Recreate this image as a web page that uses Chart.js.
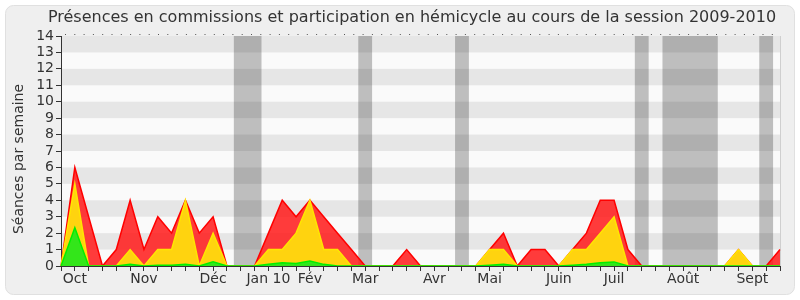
<!DOCTYPE html>
<html>
<head>
<meta charset="utf-8">
<script src="https://cdn.jsdelivr.net/npm/chart.js@4/dist/chart.umd.min.js"></script>
<style>
  html, body { margin: 0; padding: 0; background: #fff; }
  #wrap { width: 800px; height: 300px; }
</style>
</head>
<body>
<div id="wrap"><canvas id="chart" width="800" height="300"></canvas></div>
<script>
// ── Data ──────────────────────────────────────────────
const title  = "Présences en commissions et participation en hémicycle au cours de la session 2009-2010";
const yTitle = "Séances par semaine";

// one entry per week, month label on the week where it is printed
const weeks = [
  "", "Oct", "", "", "", "", "Nov", "", "", "", "", "Déc", "", "",
  "", "Jan 10", "", "", "Fév", "", "", "", "Mar", "", "", "", "", "Avr",
  "", "", "", "Mai", "", "", "", "", "Juin", "", "", "", "Juil", "", "",
  "", "", "Août", "", "", "", "", "Sept", "", ""
];

const red = [
  0, 6, 3, 0, 1, 4, 1, 3, 2, 4, 2, 3, 0, 0,
  0, 2, 4, 3, 4, 3, 2, 1, 0, 0, 0, 1, 0, 0,
  0, 0, 0, 1, 2, 0, 1, 1, 0, 1, 2, 4, 4, 1, 0,
  0, 0, 0, 0, 0, 0, 1, 0, 0, 1
];
const yellow = [
  0, 5, 0, 0, 0, 1, 0, 1, 1, 4, 0, 2, 0, 0,
  0, 1, 1, 2, 4, 1, 1, 0, 0, 0, 0, 0, 0, 0,
  0, 0, 0, 1, 1, 0, 0, 0, 0, 1, 1, 2, 3, 0, 0,
  0, 0, 0, 0, 0, 0, 1, 0, 0, 0
];
const green = [
  0, 2.33, 0, 0, 0, 0.1, 0, 0.05, 0.05, 0.1, 0, 0.25, 0, 0,
  0, 0.1, 0.2, 0.15, 0.3, 0.1, 0, 0, 0, 0, 0, 0, 0, 0,
  0, 0, 0, 0.05, 0.1, 0, 0, 0, 0, 0.05, 0.1, 0.2, 0.25, 0, 0,
  0, 0, 0, 0, 0, 0, 0, 0, 0, 0
];

// weeks without sessions (index of first and last week)
const holidays = [[13, 14], [22, 22], [29, 29], [42, 42], [44, 47], [51, 51]];

const yTicks = [0, 1, 2, 3, 4, 5, 6, 7, 8, 9, 10, 11, 12, 13, 14];

// ── Background, bands, titles ─────────────────────────
const frame = {
  id: "frame",
  beforeDraw(c) {
    const ctx = c.ctx, a = c.chartArea, x = c.scales.x, y = c.scales.y;
    ctx.save();
    ctx.fillStyle = "#fff";
    ctx.fillRect(0, 0, c.width, c.height);
    ctx.beginPath();
    ctx.roundRect(5.5, 5.5, 789, 289, 8);
    ctx.fillStyle = "#efefef";
    ctx.fill();
    ctx.strokeStyle = "#e0e0e0";
    ctx.lineWidth = 1;
    ctx.stroke();

    // stripes
    ctx.fillStyle = "#fafafa";
    ctx.fillRect(a.left, a.top, a.right - a.left, a.bottom - a.top);
    ctx.fillStyle = "#e6e6e6";
    for (let v = 1; v < 14; v += 2) {
      const t = y.getPixelForValue(v + 1), b = y.getPixelForValue(v);
      ctx.fillRect(a.left, t, a.right - a.left, b - t);
    }
    // holiday bands
    ctx.fillStyle = "rgba(0,0,0,0.24)";
    holidays.forEach(([s, e]) => {
      const l = x.getPixelForValue(s - 0.5), r = x.getPixelForValue(e + 0.5);
      ctx.fillRect(l, a.top, r - l, a.bottom - a.top);
    });
    // top dotted line + right edge
    ctx.strokeStyle = "#555";
    ctx.setLineDash([1, 8.3]);
    ctx.beginPath();
    ctx.moveTo(a.left + 4, a.top - 1.5);
    ctx.lineTo(a.right, a.top - 1.5);
    ctx.stroke();
    ctx.setLineDash([]);
    ctx.strokeStyle = "#cfcfcf";
    ctx.beginPath();
    ctx.moveTo(a.right + 0.5, a.top);
    ctx.lineTo(a.right + 0.5, a.bottom);
    ctx.stroke();

    // titles
    ctx.fillStyle = "#333";
    ctx.font = "16px 'DejaVu Sans'";
    ctx.textAlign = "center";
    ctx.textBaseline = "middle";
    ctx.fillText(title, 412, 18);
    ctx.font = "14px 'DejaVu Sans'";
    ctx.translate(19, 159);
    ctx.rotate(-Math.PI / 2);
    ctx.fillText(yTitle, 0, 0);
    ctx.restore();
  }
};

// ── Chart ─────────────────────────────────────────────
const area = (label, data, fill, line) => ({
  label, data,
  backgroundColor: fill,
  borderColor: line,
  borderWidth: 1.5,
  pointRadius: 0,
  tension: 0,
  fill: "origin"
});

new Chart(document.getElementById("chart"), {
  type: "line",
  data: {
    labels: weeks,
    datasets: [
      area("Commission", green, "#33e61a", "#00ee00"),
      area("Hémicycle", yellow, "#ffd30f", "#ffe600"),
      area("Total", red, "rgba(255,25,25,0.85)", "#ff0000")
    ]
  },
  options: {
    responsive: false,
    animation: false,
    layout: { padding: { left: 5, right: 20, top: 36, bottom: 5 } },
    plugins: { legend: { display: false }, tooltip: { enabled: false } },
    scales: {
      x: {
        offset: false,
        grid: { drawOnChartArea: false, drawTicks: true, tickLength: 5, color: "#333" },
        border: { color: "#333" },
        ticks: {
          autoSkip: false, maxRotation: 0, padding: 0,
          color: "#333", font: { family: "DejaVu Sans", size: 14 }
        },
        afterFit: s => { s.height = 29; }
      },
      y: {
        min: 0, max: 14,
        afterBuildTicks: s => { s.ticks = yTicks.map(v => ({ value: v })); },
        grid: { drawOnChartArea: false, drawTicks: true, tickLength: 5, color: "#333" },
        border: { color: "#333" },
        ticks: {
          autoSkip: false, padding: 2, color: "#333",
          font: { family: "DejaVu Sans", size: 14, lineHeight: 1 }
        },
        afterFit: s => { s.width = 56; }
      }
    }
  },
  plugins: [frame]
});
</script>
</body>
</html>
